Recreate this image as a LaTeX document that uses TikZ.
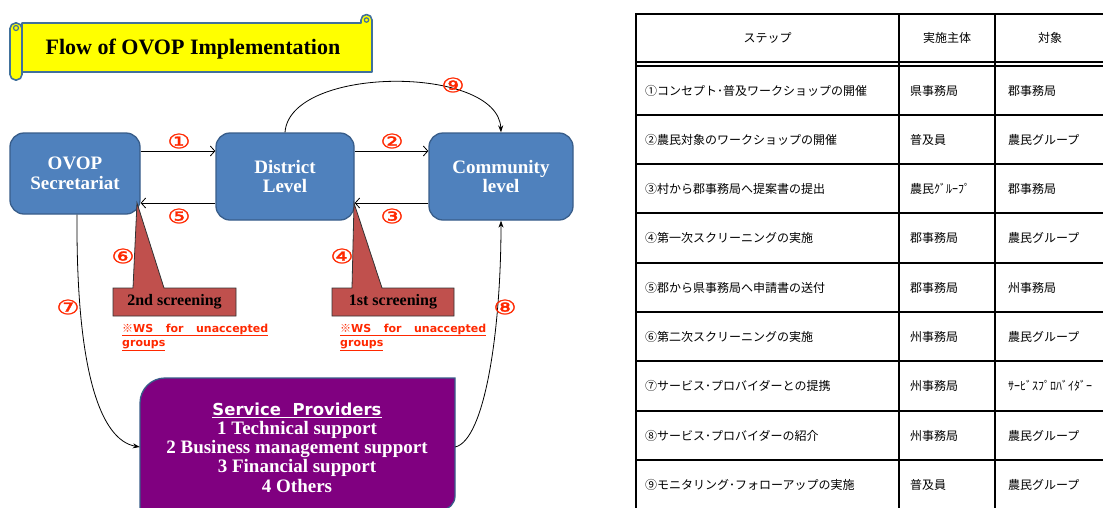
\documentclass[tikz,border=0pt]{standalone}
\usepackage{graphicx}
\usepackage{fontspec}
\setmainfont{Liberation Serif}
\newfontfamily\cjk{Noto Sans CJK JP}
\newfontfamily\circfont[FakeBold=1.2]{DejaVu Sans}
\newfontfamily\widesans{DejaVu Sans}
\usetikzlibrary{arrows.meta}
\definecolor{boxblue}{RGB}{79,129,189}
\definecolor{boxline}{RGB}{56,93,138}
\definecolor{scrred}{RGB}{192,80,77}
\definecolor{numred}{RGB}{255,40,0}
\definecolor{spurple}{RGB}{128,0,128}
\definecolor{banyellow}{RGB}{255,255,0}
\definecolor{banline}{RGB}{65,113,156}
\newcommand{\cn}[1]{\scalebox{1.3}[1]{#1}}
\begin{document}
\begin{tikzpicture}[x=1pt,y=-1pt,
  lvlbox/.style={draw=boxline, line width=1.3pt, fill=boxblue, rounded corners=14pt,
    text=white, font=\bfseries\fontsize{19}{19.5}\selectfont, align=center, inner sep=0pt},
  num/.style={text=numred, font=\circfont\fontsize{20}{20}\selectfont, inner sep=0pt},
  flow/.style={line width=0.8pt, -{Straight Barb[length=4.5pt,width=10pt]}},
  curvy/.style={line width=0.8pt, -{Stealth[length=7pt,width=5pt]}},
  callout/.style={fill=scrred, draw=black!80, line width=0.8pt},
  scrtext/.style={font=\bfseries\fontsize{16}{16}\selectfont, inner sep=0pt},
  wsnote/.style={text=numred, font=\widesans\bfseries\fontsize{11}{13}\selectfont, inner sep=0pt, anchor=base west},
  sptext/.style={text=white, font=\bfseries\fontsize{19}{19}\selectfont, inner sep=0pt, anchor=base},
  cell/.style={font=\cjk\fontsize{12}{14}\selectfont, inner sep=0pt},
  tline/.style={line width=1.8pt, black}
]
\useasboundingbox (0,0) rectangle (1103,507);
\clip (0,0) rectangle (1103,507);
\fill[white] (0,0) rectangle (1103,507);

% ---------- title banner ----------
\filldraw[fill=banyellow, draw=banline, line width=1.6pt, line join=round]
  (22,23) -- (361,23) -- (361,20) arc[start angle=180, end angle=360, radius=5.5]
  -- (372,72) -- (22,72) -- cycle;
\draw[banline, line width=1.2pt] (366.5,20) circle (2.2);
\filldraw[fill=banyellow, draw=banline, line width=1.6pt, rounded corners=5.5pt]
  (10,23) rectangle (22,80);
\draw[banline, line width=1.2pt] (16,28) circle (2.5);
\node[font=\bfseries\fontsize{22}{22}\selectfont, inner sep=0pt] (title) at (193,49) {Flow of OVOP Implementation};

% ---------- level boxes ----------
\node[lvlbox, minimum width=130, minimum height=81] (ovop) at (75,173.5) {OVOP\\Secretariat};
\node[lvlbox, minimum width=138, minimum height=87] (dist) at (285,176.5) {District\\Level};
\node[lvlbox, minimum width=144, minimum height=87] (comm) at (501,176.5) {Community\\level};

\coordinate (ya) at (0,151);
\coordinate (yb) at (0,203);
\coordinate (yc) at (0,447);

\draw[flow] (ovop.east |- ya) -- (dist.west |- ya);
\draw[flow] (dist.east |- ya) -- (comm.west |- ya);
\draw[flow] (comm.west |- yb) -- (dist.east |- yb);
\draw[flow] (dist.west |- yb) -- (ovop.east |- yb);
\draw[curvy] (dist.north) .. controls (290,65) and (498,65) .. (comm.north);

% ---------- service providers ----------
\node[minimum width=315, minimum height=132, inner sep=0pt] (sp) at (297.5,444) {};
\filldraw[fill=spurple, draw=boxline, line width=1.3pt]
  (140,510) -- (140,403) arc[start angle=180, end angle=270, radius=25]
  -- (455,378) -- (455,496) arc[start angle=0, end angle=90, radius=14] -- cycle;
\node[sptext, font=\widesans\bfseries\fontsize{16.5}{17}\selectfont] (sp0) at (297,415.5) {\underline{Service\ \ Providers}};
\node[sptext] (sp1) at (297,434.5) {1 Technical support};
\node[sptext] (sp2) at (297,453.5) {2 Business management support};
\node[sptext] (sp3) at (297,472.5) {3 Financial support};
\node[sptext] (sp4) at (297,492.5) {4 Others};

\draw[curvy] ([xshift=2pt]ovop.south) .. controls (76,370) and (100,440) .. (sp.west |- yc);
\draw[curvy] (sp.east |- yc) .. controls (485,440) and (501,330) .. (comm.south);

% ---------- screening callouts ----------
\filldraw[callout] (113,288) -- (133,288) -- (137,203) -- (164,288) -- (236,288) -- (236,316) -- (113,316) -- cycle;
\node[scrtext] (scr2) at (174.5,302) {2nd screening};
\filldraw[callout] (332,288) -- (352,288) -- (354,203) -- (382,288) -- (454,288) -- (454,316) -- (332,316) -- cycle;
\node[scrtext] (scr1) at (393,302) {1st screening};

\node[wsnote] (ws2a) at (122,332) {\underline{\makebox[146pt][s]{{\cjk ※}WS for unaccepted}}};
\node[wsnote] (ws2b) at (122,346) {\underline{groups}};
\node[wsnote] (ws1a) at (340,332) {\underline{\makebox[146pt][s]{{\cjk ※}WS for unaccepted}}};
\node[wsnote] (ws1b) at (340,346) {\underline{groups}};

% ---------- step numbers ----------
\node[num] (n1) at (179,141) {\cn{①}};
\node[num] (n2) at (392,141) {\cn{②}};
\node[num] (n3) at (392,216) {\cn{③}};
\node[num] (n4) at (342,256) {\cn{④}};
\node[num] (n5) at (179,216) {\cn{⑤}};
\node[num] (n6) at (123,256) {\cn{⑥}};
\node[num] (n7) at (68,307) {\cn{⑦}};
\node[num] (n8) at (505,307) {\cn{⑧}};
\node[num] (n9) at (453,85) {\cn{⑨}};

% ---------- table ----------
\foreach \yy in {14,115,164,213,263,312,361,411,460,510}
  \draw[tline] (636,\yy) -- (1105,\yy);
\draw[line width=1.4pt] (636,62) -- (1105,62);
\draw[line width=1.4pt] (636,66) -- (1105,66);
\foreach \xx in {636,899,995,1105}
  \draw[tline] (\xx,13.1) -- (\xx,511);

\node[cell] (h1) at (767.5,38) {ステップ};
\node[cell] (h2) at (947,38) {実施主体};
\node[cell] (h3) at (1050,38) {対象};

\foreach \yy/\ta/\tb/\tc [count=\i] in {
  90.5/①コンセプト･普及ワークショップの開催/県事務局/郡事務局,
  139.5/②農民対象のワークショップの開催/普及員/農民グループ,
  188.5/③村から郡事務局へ提案書の提出/農民ｸﾞﾙｰﾌﾟ/郡事務局,
  238/④第一次スクリーニングの実施/郡事務局/農民グループ,
  287.5/⑤郡から県事務局へ申請書の送付/郡事務局/州事務局,
  336.5/⑥第二次スクリーニングの実施/州事務局/農民グループ,
  386/⑦サービス･プロバイダーとの提携/州事務局/ｻｰﾋﾞｽﾌﾟﾛﾊﾞｲﾀﾞｰ,
  435.5/⑧サービス･プロバイダーの紹介/州事務局/農民グループ,
  485/⑨モニタリング･フォローアップの実施/普及員/農民グループ}
{
  \node[cell, anchor=west] (s\i) at (645,\yy) {\ta};
  \node[cell, anchor=west] (e\i) at (910,\yy) {\tb};
  \node[cell, anchor=west] (o\i) at (1008,\yy) {\tc};
}
\end{tikzpicture}
\end{document}
